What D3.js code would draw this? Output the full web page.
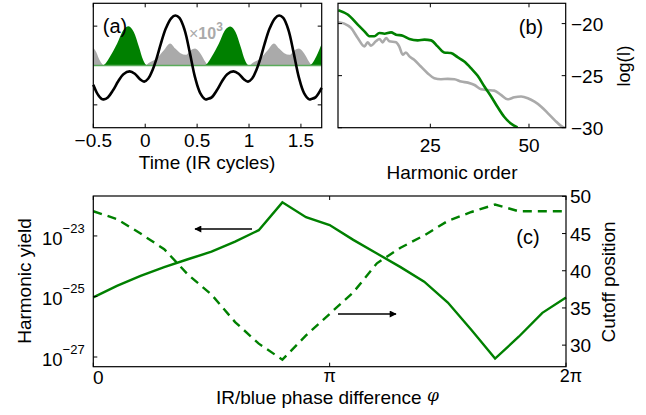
<!DOCTYPE html>
<html><head><meta charset="utf-8">
<script src="https://cdn.jsdelivr.net/npm/d3@7"></script>
<style>body{margin:0;background:#fff}text{font-family:"Liberation Sans",Arial,sans-serif}</style>
</head><body><svg id="c" width="646" height="415"></svg>
<script>
// ---------- Panel (a) data ----------
const fieldT = [-0.50,-0.46,-0.42,-0.40,-0.36,-0.31,-0.26,-0.21,-0.15,-0.10,-0.05,-0.01,0.03,0.07,0.11,0.15,0.20,0.25,0.29,0.33,0.38,0.43,0.48,0.53,0.58,0.60,0.64,0.69,0.74,0.79,0.85,0.90,0.95,0.99,1.03,1.07,1.11,1.15,1.20,1.25,1.29,1.33,1.38,1.43,1.48,1.53,1.58,1.60,1.64,1.70];
const fieldV = [-0.49,-0.72,-0.85,-0.86,-0.81,-0.63,-0.40,-0.22,-0.15,-0.21,-0.35,-0.41,-0.33,-0.12,0.18,0.55,0.95,1.20,1.27,1.21,0.90,0.32,-0.30,-0.70,-0.86,-0.85,-0.81,-0.63,-0.40,-0.22,-0.15,-0.21,-0.35,-0.41,-0.33,-0.12,0.18,0.55,0.95,1.20,1.27,1.21,0.90,0.32,-0.30,-0.70,-0.86,-0.85,-0.81,-0.57];
const greenT = [-0.50,-0.42,-0.38,-0.34,-0.27,-0.21,-0.16,-0.11,-0.06,-0.02,0.02,0.56,0.60,0.64,0.71,0.77,0.82,0.87,0.92,0.96,1.00,1.57,1.61,1.65,1.70];
const greenV = [0,0,0.06,0.22,0.56,0.90,1.00,0.85,0.47,0.14,0,0,0.06,0.22,0.56,0.90,0.99,0.85,0.47,0.14,0,0,0.06,0.24,0.55];
const grayT = [-0.50,-0.47,-0.45,-0.42,-0.39,0.00,0.03,0.11,0.18,0.24,0.29,0.34,0.39,0.44,0.48,0.53,0.58,0.61,1.00,1.03,1.11,1.18,1.24,1.29,1.34,1.39,1.44,1.48,1.53,1.58,1.61,1.70];
const grayV = [0.45,0.33,0.20,0.06,0,0,0.06,0.18,0.39,0.56,0.43,0.31,0.27,0.39,0.43,0.31,0.09,0,0,0.06,0.18,0.39,0.56,0.43,0.31,0.27,0.39,0.43,0.31,0.09,0,0];
const ticksA = [-0.5,0,0.5,1,1.5];
const tickLabelsA = ["\u22120.5","0","0.5","1","1.5"];

// ---------- Panel (b) data ----------
const hGreen = [1.7,4.06,6.6,8.3,9.56,10.8,12.1,13.35,15.05,16.3,18.0,19.7,21.8,23.5,25.2,26.85,28.5,30.2,31.9,33.6,35.3,37.0,38.7,40.4,42.0,43.7,45.4,47.1];
const vGreen = [-18.71,-19.13,-20.1,-20.74,-21.22,-21.22,-20.9,-20.97,-20.84,-21.06,-21.16,-21.48,-21.61,-21.54,-21.61,-22.19,-22.77,-22.83,-23.22,-23.64,-24.28,-25.02,-26.05,-27.0,-27.99,-28.95,-29.6,-29.97];
const hGray = [1.7,3.2,4.9,6.6,8.3,9.1,9.96,11.2,12.1,12.9,13.8,14.6,16.3,17.1,18.0,18.8,19.7,20.9,22.6,24.3,26.0,27.7,29.4,31.1,32.8,34.5,36.2,37.9,39.5,41.2,42.9,44.6,46.3,48.0,49.7,51.4,53.1,54.8,56.5,58.2,59.0];
const vGray = [-19.87,-20.0,-20.42,-21.38,-22.19,-21.8,-22.12,-21.7,-21.48,-21.8,-21.38,-21.7,-21.8,-22.19,-22.99,-22.77,-23.15,-23.47,-24.12,-24.76,-25.24,-25.34,-25.31,-25.34,-25.57,-25.67,-25.9,-26.31,-26.38,-26.44,-26.85,-27.27,-27.08,-27.01,-27.17,-27.5,-27.98,-28.62,-29.27,-29.85,-30.0];
const ticksBx = [25,50];
const ticksBy = [-20,-25,-30];

// ---------- Panel (c) data ----------
const phaseIdx = [0,1,2,3,4,5,6,7,8,9,10,11,12,13,14,15,16,17,18,19,20]; // phase = idx*pi/10
const logYield = [-25.03,-24.65,-24.32,-24.03,-23.77,-23.52,-23.19,-22.81,-21.89,-22.38,-22.64,-23.13,-23.58,-24.03,-24.51,-25.2,-26.11,-27.05,-26.33,-25.54,-25.03];
const cutoff = [48.0,46.95,45.0,42.9,39.5,36.8,33.1,30.2,28.05,31.3,34.2,37.1,41.0,43.1,44.75,46.7,47.9,48.9,48.0,48.0,48.0];
const yieldTicks = [-23,-25,-27];
const cutoffTicks = [30,35,40,45,50];
const phaseTicks = [0, Math.PI, 2*Math.PI];
const phaseTickLabels = ["0","\u03c0","2\u03c0"];

const GREEN = "#008000", GRAY = "#aaaaaa";
const FS = 19;
const svg = d3.select("#c");
svg.append("rect").attr("width",646).attr("height",415).attr("fill","#fff");

function box(x0,x1,y0,y1){
  svg.append("rect").attr("x",x0).attr("y",y0).attr("width",x1-x0).attr("height",y1-y0)
    .attr("fill","none").attr("stroke","#000").attr("stroke-width",1.2);
}
function vticks(xs,y0,y1,len){ xs.forEach(x=>{
  svg.append("line").attr("x1",x).attr("x2",x).attr("y1",y1).attr("y2",y1-len).attr("stroke","#000");
  svg.append("line").attr("x1",x).attr("x2",x).attr("y1",y0).attr("y2",y0+len).attr("stroke","#000");});}
function hticks(ys,x0,x1,len){ ys.forEach(y=>{
  svg.append("line").attr("y1",y).attr("y2",y).attr("x1",x0).attr("x2",x0+len).attr("stroke","#000");
  svg.append("line").attr("y1",y).attr("y2",y).attr("x1",x1).attr("x2",x1-len).attr("stroke","#000");});}

// ===== Panel (a) =====
const xA = d3.scaleLinear().domain([-0.5,1.7]).range([93.3,321.7]);
const yA = d3.scaleLinear().domain([-1.58,1.58]).range([127.7,3.3]);
const areaA = (T,V)=> d3.area().x((d,i)=>xA(T[i])).y0(yA(0)).y1((d,i)=>yA(V[i])).curve(d3.curveMonotoneX)(T);
const gA = svg.append("g");
gA.append("path").attr("d",areaA(grayT,grayV)).attr("fill",GRAY);
gA.append("path").attr("d",areaA(greenT,greenV)).attr("fill",GREEN);
gA.append("line").attr("x1",xA(-0.5)).attr("x2",xA(1.7)).attr("y1",yA(0)).attr("y2",yA(0)).attr("stroke","#5aab5a").attr("stroke-width",1.5);
gA.append("path").attr("d", d3.line().x((d,i)=>xA(fieldT[i])).y((d,i)=>yA(fieldV[i])).curve(d3.curveCatmullRom)(fieldT))
  .attr("fill","none").attr("stroke","#000").attr("stroke-width",2.6);
box(93.3,321.7,3.3,127.7);
vticks(ticksA.map(xA),3.3,127.7,4);
hticks([yA(1),yA(-1)],93.3,321.7,4);
ticksA.forEach((t,i)=>svg.append("text").attr("x",xA(t)).attr("y",147).attr("text-anchor","middle").attr("font-size",FS).text(tickLabelsA[i]));
svg.append("text").attr("x",207).attr("y",169).attr("text-anchor","middle").attr("font-size",FS).text("Time (IR cycles)");
svg.append("text").attr("x",115).attr("y",33).attr("text-anchor","middle").attr("font-size",20).text("(a)");
const xt = svg.append("text").attr("x",189).attr("y",39).attr("font-size",16).attr("fill",GRAY).attr("font-weight","bold");
xt.append("tspan").attr("font-weight","normal").text("\u00d7");
xt.append("tspan").text("10");
xt.append("tspan").attr("dy",-8).attr("font-size",12).text("3");

// ===== Panel (b) =====
const xB = d3.scaleLinear().domain([1.6,59.3]).range([338,565.7]);
const yB = d3.scaleLinear().domain([-30,-18.05]).range([127.7,3.3]);
svg.append("clipPath").attr("id","cb").append("rect").attr("x",338).attr("y",3.3).attr("width",227.7).attr("height",124.4);
const lineB = (H,V)=> d3.line().x((d,i)=>xB(H[i])).y((d,i)=>yB(V[i])).curve(d3.curveMonotoneX)(H);
svg.append("path").attr("d",lineB(hGray,vGray)).attr("fill","none").attr("stroke",GRAY).attr("stroke-width",2.6).attr("clip-path","url(#cb)");
svg.append("path").attr("d",lineB(hGreen,vGreen)).attr("fill","none").attr("stroke",GREEN).attr("stroke-width",2.6).attr("clip-path","url(#cb)");
box(338,565.7,3.3,127.7);
vticks(ticksBx.map(xB),3.3,127.7,4);
hticks(ticksBy.map(yB),338,565.7,4);
ticksBx.forEach(t=>svg.append("text").attr("x",xB(t)).attr("y",152).attr("text-anchor","middle").attr("font-size",FS).text(t));
ticksBy.forEach(t=>svg.append("text").attr("x",571).attr("y",yB(t)+7).attr("font-size",FS).text("\u2212"+Math.abs(t)));
svg.append("text").attr("x",452).attr("y",179).attr("text-anchor","middle").attr("font-size",FS).text("Harmonic order");
svg.append("text").attr("transform","translate(630,66) rotate(-90)").attr("text-anchor","middle").attr("font-size",18).text("log(I)");
svg.append("text").attr("x",531).attr("y",34).attr("text-anchor","middle").attr("font-size",20).text("(b)");

// ===== Panel (c) =====
const xC = d3.scaleLinear().domain([0,2*Math.PI]).range([93.3,566]);
const yL = d3.scaleLog().domain([Math.pow(10,-27.32),Math.pow(10,-21.68)]).range([366.7,196]);
const yR = d3.scaleLinear().domain([27.1,50.05]).range([366.7,196]);
const phase = phaseIdx.map(k=>k*Math.PI/10);
svg.append("path").attr("d",d3.line().x((d,i)=>xC(phase[i])).y((d,i)=>yL(Math.pow(10,logYield[i])))(phase))
  .attr("fill","none").attr("stroke",GREEN).attr("stroke-width",2.4);
svg.append("path").attr("d",d3.line().x((d,i)=>xC(phase[i])).y((d,i)=>yR(cutoff[i]))(phase))
  .attr("fill","none").attr("stroke",GREEN).attr("stroke-width",2.4).attr("stroke-dasharray","9,6");
box(93.3,566,196,366.7);
vticks(phaseTicks.map(xC),196,366.7,4);
yieldTicks.forEach(e=>{const y=yL(Math.pow(10,e));
  svg.append("line").attr("x1",93.3).attr("x2",97.3).attr("y1",y).attr("y2",y).attr("stroke","#000");
  const t=svg.append("text").attr("x",42).attr("y",y+9).attr("font-size",18.5);
  t.append("tspan").text("10"); t.append("tspan").attr("dy",-12).attr("font-size",13).text("\u2212"+Math.abs(e));});
cutoffTicks.forEach(c=>{const y=yR(c);
  svg.append("line").attr("x1",566).attr("x2",562).attr("y1",y).attr("y2",y).attr("stroke","#000");
  svg.append("text").attr("x",570).attr("y",y+7).attr("font-size",FS).text(c);});
phaseTicks.forEach((p,i)=>svg.append("text").attr("x",xC(p)+(i===0?5:(i===2?5:0))).attr("y",i===0?384:382).attr("text-anchor","middle")
  .attr("font-size",i===0?FS:18).attr("font-family",i===0?null:"Liberation Serif, serif").text(phaseTickLabels[i]));
const tt = svg.append("text").attr("x",216).attr("y",404).attr("font-size",FS);
tt.append("tspan").text("IR/blue phase difference ");
tt.append("tspan").attr("font-family","DejaVu Serif, serif").attr("font-style","italic").attr("font-size",17).attr("dy",-3).text("\u03c6");
svg.append("text").attr("transform","translate(31,281) rotate(-90)").attr("text-anchor","middle").attr("font-size",FS).text("Harmonic yield");
svg.append("text").attr("transform","translate(615,282) rotate(-90)").attr("text-anchor","middle").attr("font-size",FS).text("Cutoff position");
svg.append("text").attr("x",528).attr("y",244).attr("text-anchor","middle").attr("font-size",20).text("(c)");
// arrows
const defs = svg.append("defs");
defs.append("marker").attr("id","ah").attr("viewBox","0 0 10 10").attr("refX",9).attr("refY",5)
  .attr("markerWidth",11).attr("markerHeight",7).attr("markerUnits","userSpaceOnUse").attr("orient","auto")
  .append("path").attr("d","M0,0L10,5L0,10Z").attr("fill","#000");
svg.append("line").attr("x1",252).attr("x2",195).attr("y1",229).attr("y2",229).attr("stroke","#000").attr("stroke-width",1.6).attr("marker-end","url(#ah)");
svg.append("line").attr("x1",338).attr("x2",396).attr("y1",314).attr("y2",314).attr("stroke","#000").attr("stroke-width",1.6).attr("marker-end","url(#ah)");
</script></body></html>
